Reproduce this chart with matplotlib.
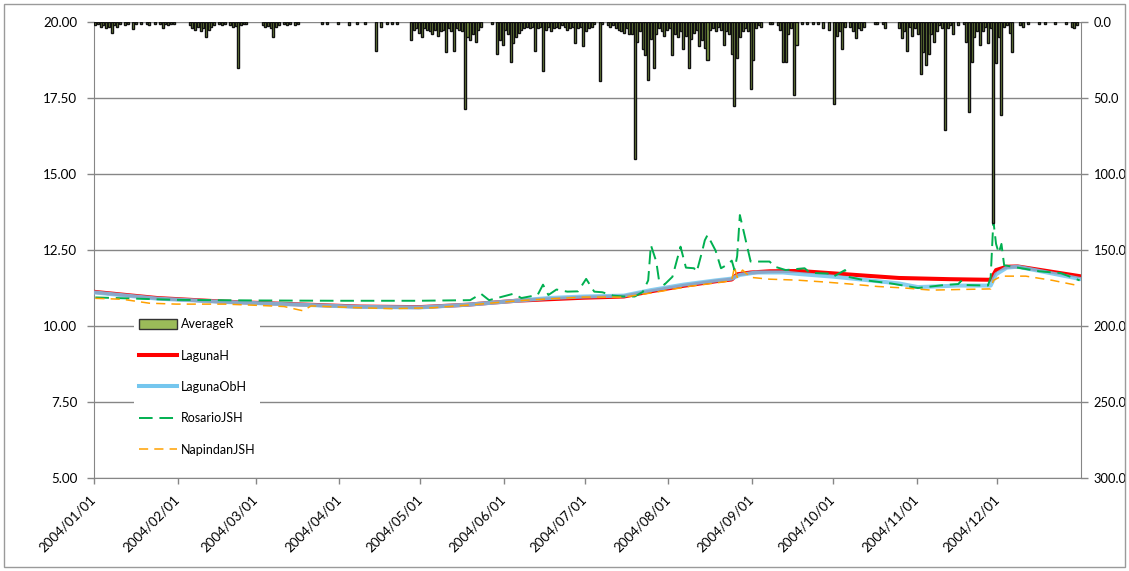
"""Daily lake / river stage at four stations with area-averaged rainfall, 2004.

Stage (m) on the left axis, rainfall (mm) hanging from the top on an
inverted right-hand axis.
"""
import matplotlib.pyplot as plt
from matplotlib.lines import Line2D
from matplotlib.patches import Patch, Rectangle

plt.rcParams.update({
    "font.family": ["Lato", "DejaVu Sans"],
    "font.size": 9.6,
})

OUT = "out.png"

# day of year (0 = 2004/01/01) of each month start, and its tick label
MONTH_DAYS = [0, 31, 60, 91, 121, 152, 182, 213, 244, 274, 305, 335]
MONTH_LABELS = ["2004/%02d/01" % m for m in range(1, 13)]
N_DAYS = 366

# --- rainfall, mm (days without rain are left out) ---
RAIN_DAY = [
    0, 1, 2, 3, 4, 5, 6, 7, 8, 9, 11, 12, 14, 15, 17, 19, 20, 22, 24, 25, 26, 27, 28, 29,
    35, 36, 37, 38, 39, 40, 41, 42, 43, 44, 46, 47, 48, 50, 51, 52, 53, 54, 55, 56,
    62, 63, 64, 65, 66, 67, 68, 70, 71, 72, 74, 75, 84, 86, 90,
    94, 97, 100, 104, 106, 108, 110, 112, 117, 118, 119, 120, 121, 122, 123, 124, 125,
    126, 127, 128, 129, 130, 131, 132, 133, 134, 135, 136, 137, 138, 139, 140, 141, 142, 143,
    147, 149, 150, 151, 152, 153, 154, 155, 156, 157, 158, 159, 160, 161, 162, 163, 164,
    165, 166, 167, 168, 169, 170, 171, 172, 173, 174, 175, 176, 177, 178, 179, 180, 181,
    182, 183, 184, 185, 187, 188, 190, 191, 192, 193, 194, 195, 196, 197, 198, 199, 200,
    201, 202, 203, 204, 205, 206, 207, 208, 209, 210, 211, 212, 213, 214, 215, 216, 217,
    218, 219, 220, 221, 222, 223, 224, 225, 226, 227, 228, 229, 230, 231, 232, 233, 234,
    235, 236, 237, 238, 239, 240, 241, 242, 243, 244, 245, 246, 247,
    250, 251, 253, 254, 255, 256, 257, 258, 259, 260, 262, 264, 266, 268, 270, 272,
    274, 275, 276, 277, 278, 280, 281, 282, 283, 284, 285, 289, 290, 292, 293,
    298, 299, 300, 301, 302, 303, 304, 305, 306, 307, 308, 309, 310, 311, 312, 313, 314,
    315, 316, 317, 318, 320, 322, 323, 324, 325, 326, 327, 328, 329, 330, 331, 332, 333,
    334, 335, 336, 337, 338, 339, 340, 343, 344, 346, 350, 352, 356, 360, 362, 363, 364,
]
RAIN_MM = [
    2, 1.5, 3, 2, 4, 3, 7.5, 2, 3, 1, 2, 1, 4.5, 1, 1.5, 1, 2, 1, 1.5, 4, 1, 2, 1.5, 1,
    2, 4, 5, 3, 6, 4, 10, 5, 3, 2, 1.5, 2, 1, 2, 3, 2.5, 30, 2, 1.5, 1,
    2, 3, 2.5, 4, 10, 3, 2, 1.5, 2, 1, 2, 1, 1, 1, 1,
    2, 1, 1, 19, 3, 1, 1.5, 1, 12, 5, 4, 7, 10, 4, 5, 6, 8,
    5, 9, 6, 5, 20, 4, 6, 19, 4, 5, 6, 57, 10, 12, 8, 13, 5, 3,
    1, 21, 12, 15, 5, 8, 26, 14, 10, 7, 5, 4, 3, 4, 3, 19, 4,
    3, 32, 5, 3, 6, 4, 3, 4, 2, 3, 5, 4, 3, 14, 4, 3, 16,
    6, 4, 3, 1, 39, 1, 2, 3, 2, 4, 5, 6, 7, 4, 8, 8, 90,
    13, 6, 18, 22, 38, 11, 30, 8, 4, 6, 9, 5, 4, 22, 8, 10, 6,
    18, 9, 30, 11, 7, 5, 16, 12, 17, 25, 5, 4, 6, 3, 5, 15, 6,
    8, 21, 55, 24, 10, 6, 4, 6, 44, 25, 4, 2, 3,
    1, 1, 2, 5, 26, 26, 8, 4, 48, 15, 1, 1.5, 1, 1, 4, 5,
    54, 9, 6, 17.5, 3, 3, 6, 10.5, 4, 5, 3, 1, 1.5, 1, 4,
    4, 10.5, 6, 19, 3, 9, 4, 8, 34, 20, 28, 21, 8, 13, 6, 2, 4,
    71, 4, 2, 7.7, 2, 1, 13, 59, 26, 10, 6, 15, 6, 3, 14, 4, 132,
    27, 10, 61, 3, 2, 7, 20, 2, 3, 1, 1, 1.5, 1, 1, 3, 4, 2,
]

# --- stage, m ---
LAGUNA_H_DAY = [0, 23, 48, 73, 98, 120, 138, 146, 156, 168, 181, 196, 206, 218, 230,
                236, 238, 243, 250, 261, 274, 285, 298, 317, 332, 334, 338, 342, 365]
LAGUNA_H = [11.12, 10.92, 10.80, 10.72, 10.64, 10.62, 10.70, 10.76, 10.83, 10.88, 10.93,
            10.97, 11.14, 11.32, 11.47, 11.53, 11.70, 11.76, 11.80, 11.81, 11.73, 11.66,
            11.58, 11.54, 11.52, 11.84, 11.95, 11.96, 11.64]

LAGUNA_OB_DAY = [0, 23, 48, 73, 98, 120, 138, 152, 168, 181, 196, 206, 218, 230, 236,
                 239, 245, 255, 261, 274, 285, 298, 305, 320, 332, 334, 338, 342, 365]
LAGUNA_OB = [11.10, 10.90, 10.79, 10.71, 10.63, 10.61, 10.70, 10.80, 10.92, 10.97,
             11.00, 11.18, 11.36, 11.50, 11.56, 11.68, 11.76, 11.76, 11.71, 11.62, 11.52,
             11.40, 11.28, 11.33, 11.33, 11.70, 11.92, 11.95, 11.55]

ROSARIO_DAY = [0, 15, 30, 60, 90, 120, 139, 143, 146, 155, 158, 164, 166, 168, 171, 175,
               179, 182, 185, 188, 192, 196, 200, 203, 205, 206, 208, 209, 211, 214, 217,
               219, 222, 223, 225, 226, 227, 230, 232, 234, 236, 237, 238, 239, 240, 242,
               243, 250, 252, 256, 263, 265, 273, 274, 278, 279, 285, 295, 305, 315, 320,
               321, 322, 331, 332, 333, 334, 335, 336, 337, 340, 350, 358, 365]
ROSARIO = [10.94, 10.90, 10.86, 10.84, 10.83, 10.83, 10.85, 11.06, 10.85, 11.06, 10.92,
           11.02, 11.36, 11.02, 11.20, 11.13, 11.14, 11.55, 11.13, 11.11, 11.00, 10.97,
           10.97, 11.12, 11.50, 12.66, 12.12, 11.51, 11.36, 11.62, 12.61, 11.92, 11.90,
           11.78, 12.45, 12.82, 12.99, 12.48, 11.90, 12.00, 12.15, 11.84, 12.30, 13.65,
           13.27, 12.50, 12.12, 12.12, 11.95, 11.84, 11.90, 11.75, 11.72, 11.64, 11.84,
           11.62, 11.51, 11.40, 11.25, 11.35, 11.38, 11.48, 11.35, 11.33, 11.60, 13.46,
           12.70, 12.40, 12.70, 12.00, 11.95, 11.80, 11.74, 11.50]

NAPINDAN_DAY = [0, 10, 20, 30, 48, 60, 70, 77, 80, 98, 110, 125, 140, 150, 160, 170, 181,
                196, 207, 220, 233, 236, 237, 238, 240, 243, 250, 260, 270, 280, 290, 300,
                310, 320, 332, 333, 336, 345, 355, 365]
NAPINDAN = [10.91, 10.88, 10.75, 10.72, 10.72, 10.68, 10.64, 10.50, 10.66, 10.60, 10.57,
            10.60, 10.70, 10.78, 10.85, 10.90, 10.95, 10.95, 11.10, 11.30, 11.45, 11.50,
            11.95, 11.60, 11.84, 11.60, 11.54, 11.51, 11.45, 11.38, 11.30, 11.25, 11.18,
            11.20, 11.22, 11.50, 11.64, 11.64, 11.50, 11.32]

GRID = "#868686"
C_RAIN = "#9BBB59"
C_LAGUNA = "#FF0000"
C_LAGUNA_OB = "#74C6EE"
C_ROSARIO = "#00B050"
C_NAPINDAN = "#FFA000"


def mid(days):
    # values sit in the middle of each day's slot
    return [d + 0.5 for d in days]


def main():
    fig = plt.figure(figsize=(11.29, 5.71), dpi=100)
    ax = fig.add_axes([94 / 1129, 1 - 478 / 571, 987 / 1129, 456 / 571])
    fig.patches.append(Rectangle((4 / 1129, 4 / 571), 1121 / 1129, 563 / 571,
                                 transform=fig.transFigure, fill=False,
                                 edgecolor="#9A9A9A", lw=1.0))

    ax.plot(mid(LAGUNA_H_DAY), LAGUNA_H, color=C_LAGUNA, lw=2.9, zorder=3)
    ax.plot(mid(LAGUNA_OB_DAY), LAGUNA_OB, color=C_LAGUNA_OB, lw=2.9, alpha=0.85, zorder=4)
    ax.plot(mid(ROSARIO_DAY), ROSARIO, color=C_ROSARIO, lw=1.4, dashes=(7, 3.5), zorder=5)
    ax.plot(mid(NAPINDAN_DAY), NAPINDAN, color=C_NAPINDAN, lw=1.1, dashes=(6, 4), zorder=5)

    ax.set_xlim(0, N_DAYS)
    ax.set_ylim(5, 20)
    ax.set_yticks([5, 7.5, 10, 12.5, 15, 17.5, 20])
    ax.set_yticklabels(["%.2f" % v for v in [5, 7.5, 10, 12.5, 15, 17.5, 20]])
    ax.set_xticks(MONTH_DAYS)
    ax.set_xticklabels(MONTH_LABELS, rotation=45, ha="right", va="center",
                       rotation_mode="anchor")
    ax.grid(axis="y", color=GRID, lw=1.0)
    ax.set_axisbelow(True)
    ax.tick_params(axis="y", length=5, width=1, color=GRID, pad=7)
    ax.tick_params(axis="x", length=4, width=1, color=GRID, pad=10)
    for s in ["left", "bottom"]:
        ax.spines[s].set_color(GRID)
    ax.spines["top"].set_visible(False)
    ax.spines["right"].set_visible(False)

    # rainfall on an inverted secondary axis
    ax2 = ax.twinx()
    ax2.bar(mid(RAIN_DAY), RAIN_MM, width=0.75, color="#7F9A45", edgecolor="#111111", lw=1.0)
    ax2.set_ylim(300, 0)
    ax2.set_yticks(range(0, 301, 50))
    ax2.set_yticklabels(["%.1f" % v for v in range(0, 301, 50)])
    ax2.tick_params(axis="y", length=5, width=1, color=GRID, pad=4, labelsize=9.3)
    ax2.spines["right"].set_color(GRID)
    for s in ["left", "top", "bottom"]:
        ax2.spines[s].set_visible(False)

    handles = [
        Patch(facecolor=C_RAIN, edgecolor="#333333", lw=1.0),
        Line2D([], [], color=C_LAGUNA, lw=2.9),
        Line2D([], [], color=C_LAGUNA_OB, lw=2.9),
        Line2D([], [], color=C_ROSARIO, lw=1.4, dashes=(7, 3.5)),
        Line2D([], [], color=C_NAPINDAN, lw=1.1, dashes=(6, 4)),
    ]
    labels = ["AverageR", "LagunaH", "LagunaObH", "RosarioJSH", "NapindanJSH"]
    leg = ax2.legend(handles, labels, loc="upper left",
                     bbox_to_anchor=(128 / 1129, 1 - 307 / 571),
                     bbox_transform=fig.transFigure, fontsize=9,
                     frameon=True, facecolor="white", edgecolor="none", framealpha=1,
                     fancybox=False, handlelength=3.0, handleheight=0.9,
                     handletextpad=0.3, labelspacing=1.55, borderpad=0.4)
    leg.set_zorder(10)

    fig.savefig(OUT, dpi=100)
    plt.close(fig)


if __name__ == "__main__":
    main()
